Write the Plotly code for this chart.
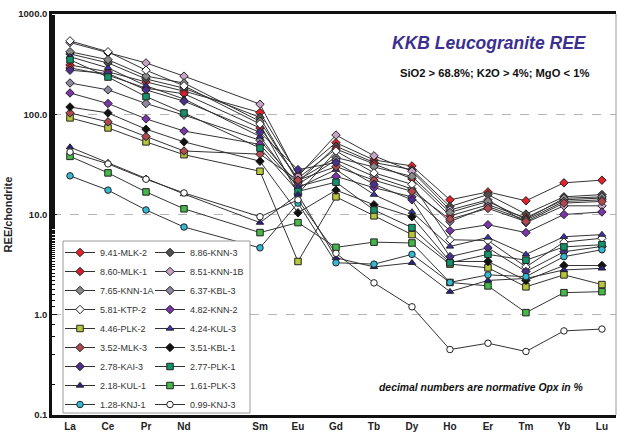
import plotly.graph_objects as go

elements = ["La", "Ce", "Pr", "Nd", "Pm", "Sm", "Eu", "Gd", "Tb", "Dy", "Ho", "Er", "Tm", "Yb", "Lu"]
measured = ["La", "Ce", "Pr", "Nd", "Sm", "Eu", "Gd", "Tb", "Dy", "Ho", "Er", "Tm", "Yb", "Lu"]

names = ["9.41-MLK-2", "8.86-KNN-3", "8.60-MLK-1", "8.51-KNN-1B", "7.65-KNN-1A", "6.37-KBL-3",
         "5.81-KTP-2", "4.82-KNN-2", "4.46-PLK-2", "4.24-KUL-3", "3.52-MLK-3", "3.51-KBL-1",
         "2.78-KAI-3", "2.77-PLK-1", "2.18-KUL-1", "1.61-PLK-3", "1.28-KNJ-1", "0.99-KNJ-3"]

MLK_2 = [310, 265, 210, 170, 104, 25, 52, 35, 30.5, 14, 16.8, 13.7, 20.7, 22]
KNN_3 = [400, 325, 225, 182, 93, 21, 48, 33, 28, 12, 15.8, 10.1, 15, 15.8]
MLK_1 = [290, 245, 182, 160, 73, 23, 45, 32, 22.7, 9.7, 12.5, 9.3, 14, 14.6]
KNN_1B = [520, 410, 325, 240, 126, 24, 62, 38.5, 27, 11.1, 14, 8.3, 12.2, 12.2]
KNN_1A = [420, 350, 240, 205, 85, 22, 37, 30, 24, 10.5, 13.5, 9.0, 14.5, 15]
KBL_3 = [205, 175, 128, 98, 55, 20, 35, 24, 18, 8.5, 12, 8.8, 13.5, 14]
KTP_2 = [540, 420, 275, 192, 80, 16, 43, 26, 20, 5.6, 5.5, 3.0, 5.3, 5.8]
KNN_2 = [163, 128, 90, 68, 50, 19, 24, 18.5, 15, 6.9, 7.9, 6.6, 10, 10.6]
PLK_2 = [92, 73, 53, 39.5, 27, 3.4, 15, 9.7, 6.3, 3.2, 2.94, 1.9, 2.5, 2.0]
KUL_3 = [375, 290, 192, 142, 60, 18.5, 28, 15.8, 10.6, 4.8, 5.9, 4.0, 6.0, 6.3]
MLK_3 = [103, 84, 60, 43, 40, 22, 30, 22, 17, 9.0, 11.5, 8.5, 13, 13.5]
KBL_1 = [118, 103, 71, 53, 34, 10.4, 17.5, 12.5, 9.5, 3.4, 3.4, 2.2, 3.1, 3.1]
KAI_3 = [275, 255, 175, 135, 66, 28, 33, 20, 14, 3.8, 4.65, 2.7, 4.25, 4.8]
PLK_1 = [350, 235, 150, 103, 46, 17, 21, 11.1, 7.4, 3.3, 4.0, 3.5, 4.75, 5.0]
KUL_1 = [47, 33, 23, 16, 8.3, 15.8, 3.7, 3.0, 3.3, 1.7, 2.2, 2.3, 2.8, 2.9]
PLK_3 = [38, 26, 16.8, 11.4, 6.6, 8.3, 4.7, 5.3, 5.2, 2.1, 1.94, 1.05, 1.66, 1.7]
KNJ_1 = [24.3, 17.5, 11.1, 7.5, 4.65, 13, 3.3, 3.2, 4.0, 2.1, 2.5, 2.4, 3.8, 4.45]
KNJ_3 = [42, 32, 22.5, 16.4, 9.5, 14, 4.1, 2.08, 1.2, 0.45, 0.52, 0.43, 0.69, 0.72]

series = [MLK_2, KNN_3, MLK_1, KNN_1B, KNN_1A, KBL_3, KTP_2, KNN_2, PLK_2, KUL_3,
          MLK_3, KBL_1, KAI_3, PLK_1, KUL_1, PLK_3, KNJ_1, KNJ_3]

y_ticks = [0.1, 1, 10, 100, 1000]
y_ticktext = ["0.1", "1.0", "10.0", "100.0", "1000.0"]

styles = [
    ("diamond", "#e3222b"), ("diamond", "#505050"), ("diamond", "#d0202e"), ("diamond", "#c9a3c6"),
    ("diamond", "#8a8a8a"), ("diamond", "#8f86a0"), ("diamond", "#ffffff"), ("diamond", "#7a35a8"),
    ("square", "#b7c63a"), ("triangle-up", "#3a35b0"), ("diamond", "#b04a50"), ("diamond", "#111111"),
    ("diamond", "#4a2f8c"), ("square", "#12946a"), ("triangle-up", "#27228a"), ("square", "#45b84a"),
    ("circle", "#34b9d3"), ("circle", "#ffffff"),
]

FONT = "Arial, Liberation Sans, sans-serif"
xidx = {e: i for i, e in enumerate(elements)}

# plot-area pixel geometry (used only for placing text / legend box)
pl, pr, pt, pb = 52, 619 - 3, 14, 440 - 25
def px_x(v):
    return (v - pl) / (pr - pl)
def px_y(v):
    return (pb - v) / (pb - pt)

fig = go.Figure()
for i, (name, vals, (sym, col)) in enumerate(zip(names, series, styles)):
    xs = [xidx[e] for e in measured]
    fig.add_trace(go.Scatter(
        x=xs, y=vals, name=name, mode="lines+markers",
        legend="legend" if i % 2 == 0 else "legend2",
        line=dict(color="#333333", width=1),
        marker=dict(symbol=sym, size=6.5, color=col, line=dict(color="#222222", width=1)),
    ))

leg_common = dict(
    orientation="v", yanchor="top", xanchor="left",
    bgcolor="rgba(0,0,0,0)", borderwidth=0,
    font=dict(family=FONT, size=9, color="#333333"),
    tracegroupgap=0,
)

fig.update_layout(
    width=619, height=440,
    margin=dict(l=52, r=3, t=14, b=25),
    paper_bgcolor="white", plot_bgcolor="white",
    font=dict(family=FONT, size=10, color="#222222"),
    showlegend=True,
    legend=dict(x=px_x(60), y=px_y(238), **leg_common),
    legend2=dict(x=px_x(150), y=px_y(238), **leg_common),
    xaxis=dict(
        range=[-0.474, 14.37],
        tickmode="array", tickvals=list(range(len(elements))),
        ticktext=[("" if e == "Pm" else "<b>" + e + "</b>") for e in elements],
        showgrid=False, zeroline=False, ticks="",
        showline=True, linecolor="#111111", linewidth=3, mirror=True,
        tickfont=dict(family=FONT, size=10, color="#222222"),
    ),
    yaxis=dict(
        type="log", range=[-1, 3],
        tickmode="array", tickvals=y_ticks, ticktext=["<b>" + t + "</b>" for t in y_ticktext],
        ticks="inside", ticklen=5, tickcolor="#111111",
        minor=dict(ticks="inside", ticklen=3, tickcolor="#111111", showgrid=False),
        showgrid=True, gridcolor="#b5b5b5", griddash="dash", gridwidth=1,
        showline=True, linecolor="#111111", linewidth=2.5,
        zeroline=False,
        title=dict(text="<b>REE/chondrite</b>", font=dict(family=FONT, size=11, color="#222222"), standoff=4),
        tickfont=dict(family=FONT, size=9.5, color="#222222"),
    ),
    annotations=[
        dict(text="<b><i>KKB Leucogranite REE</i></b>", x=px_x(489), y=px_y(43),
             xref="paper", yref="paper", xanchor="center", yanchor="middle",
             showarrow=False, font=dict(family=FONT, size=17.5, color="#3b2f8f")),
        dict(text="<b>SiO2 > 68.8%; K2O > 4%; MgO < 1%</b>", x=px_x(494), y=px_y(73),
             xref="paper", yref="paper", xanchor="center", yanchor="middle",
             showarrow=False, font=dict(family=FONT, size=11.2, color="#111111")),
        dict(text="<b><i>decimal numbers are normative Opx in %</i></b>", x=px_x(481), y=px_y(387),
             xref="paper", yref="paper", xanchor="center", yanchor="middle",
             showarrow=False, font=dict(family=FONT, size=10.4, color="#111111")),
    ],
    shapes=[
        dict(type="line", xref="paper", yref="paper", x0=1, x1=1, y0=0, y1=1,
             line=dict(color="#9a9a9a", width=1)),
        dict(type="rect", xref="paper", yref="paper", layer="above",
             x0=px_x(63), x1=px_x(250), y0=px_y(241), y1=px_y(413),
             fillcolor="white", line=dict(color="#9a9a9a", width=1)),
    ],
)

fig.write_html("out.html")
